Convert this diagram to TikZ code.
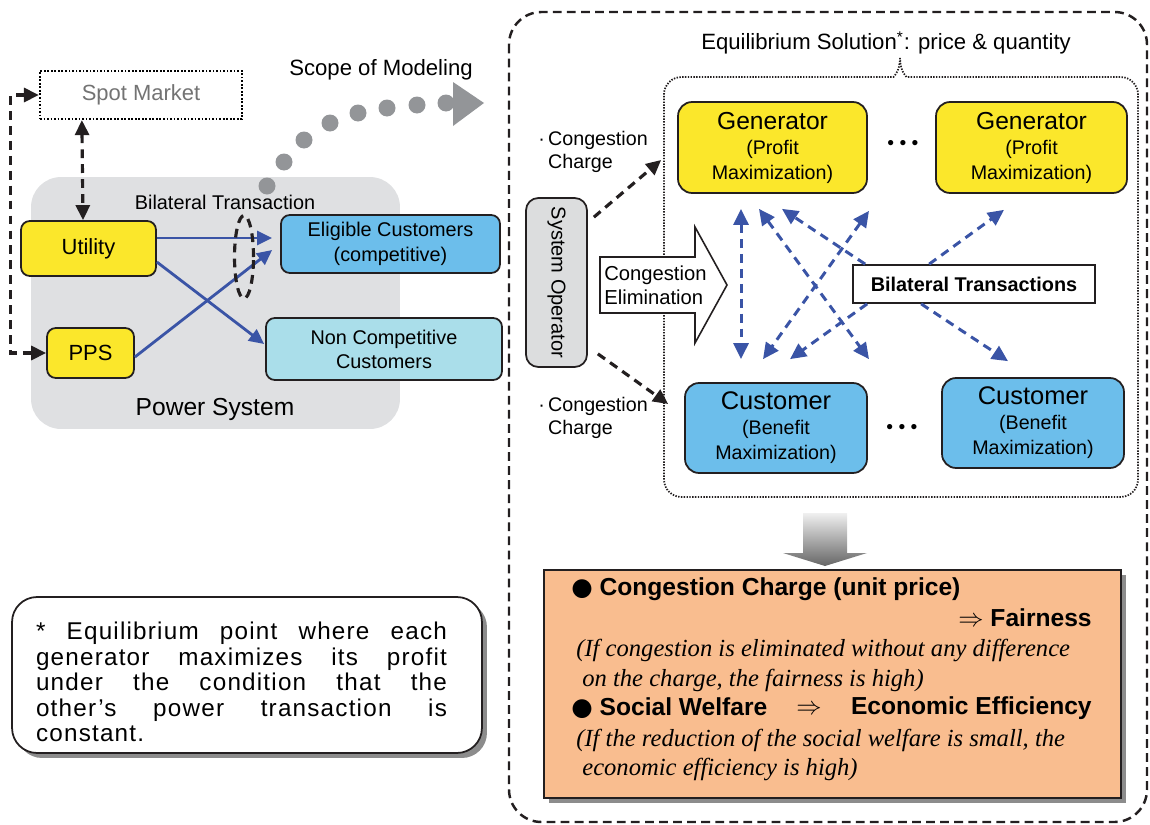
\documentclass[tikz,border=0pt]{standalone}
\usepackage{fontspec}
\setmainfont{Liberation Sans}
\newfontfamily\timesfont{Liberation Serif}
\newfontfamily\symfont{DejaVu Sans}
\newfontfamily\spacedfont{Liberation Sans}[LetterSpace=5]
\usetikzlibrary{arrows.meta,positioning,calc,shapes.geometric,shadows}
\definecolor{genyel}{RGB}{251,231,43}
\definecolor{custblue}{RGB}{108,190,235}
\definecolor{ncblue}{RGB}{170,222,234}
\definecolor{psgray}{RGB}{223,224,226}
\definecolor{sogray}{RGB}{220,221,222}
\definecolor{trblue}{RGB}{58,84,166}
\definecolor{scopegray}{RGB}{147,149,152}
\definecolor{resorange}{RGB}{249,189,143}
\definecolor{lineblk}{RGB}{35,31,32}
\definecolor{spotgray}{RGB}{115,115,115}
\newcommand{\fsz}[2]{\fontsize{#1pt}{#2pt}\selectfont}
\tikzset{
  bx/.style={draw=lineblk, line width=1pt, rounded corners=5pt, inner sep=0pt, align=center},
  ybox/.style={bx, fill=genyel, font=\fsz{12.5}{15}},
  cbox/.style={bx, fill=custblue, font=\fsz{11.3}{13.9}},
  nbox/.style={bx, fill=ncblue, font=\fsz{11.3}{13.6}},
  gbox/.style={bx, fill=genyel, rounded corners=8pt, font=\fsz{11.2}{14.2}, minimum height=1.82cm},
  ubox/.style={bx, fill=custblue, rounded corners=8pt, font=\fsz{11.2}{14.2}, minimum height=1.8cm, minimum width=3.64cm},
  spotbox/.style={draw=black, line width=1.3pt, dash pattern=on 1pt off 1pt, inner sep=0pt, minimum width=4.04cm, minimum height=0.96cm, text=spotgray, font=\fsz{12.5}{15}},
  blkarr/.style={lineblk, line width=1.8pt, dash pattern=on 5pt off 3.5pt, >={Triangle[length=3mm,width=2.8mm]}, ->},
  blkdbl/.style={blkarr, <->},
  trarr/.style={trblue, line width=1.6pt, >={Triangle[length=3mm,width=2.8mm]}, ->},
  trdash/.style={trarr, line width=1.7pt, dash pattern=on 5pt off 3.5pt, >={Triangle[length=3.2mm,width=3mm]}},
  trdbl/.style={trdash, <->},
  outerdash/.style={draw=lineblk, line width=1.4pt, dash pattern=on 5pt off 3pt, rounded corners=0.65cm},
  innerdot/.style={draw=lineblk, line width=1pt, dash pattern=on 0.8pt off 0.8pt, rounded corners=0.35cm},
  lbl/.style={font=\fsz{11.2}{13}, inner sep=0pt, align=left},
  ostrong/.style={font=\bfseries\fsz{14}{16}, inner sep=0pt},
  oital/.style={font=\timesfont\itshape\fsz{14}{16}, inner sep=0pt},
  shadowbox/.style={drop shadow={shadow xshift=0.1cm, shadow yshift=-0.1cm, fill=black!45, opacity=1}},
}
\begin{document}
\begin{tikzpicture}[x=0.02cm, y=-0.02cm]
  \useasboundingbox (0,0) rectangle (1150,825);
  % power system (left part)
  \node[fill=psgray, rounded corners=0.6cm, minimum width=7.38cm, minimum height=5.04cm] (psys) at (215.5,303) {};
  \node[font=\fsz{14}{16}] (pslabel) at (215,409) {Power System};
  \node[font=\fsz{11.3}{13}] (btlabel) at (225,202) {Bilateral Transaction};
  \node[spotbox] (spot) at (141,95) {Spot Market};
  \node[ybox, minimum width=2.7cm, minimum height=1.1cm] (utility) at (88.5,248.5) {Utility};
  \node[ybox, minimum width=1.74cm, minimum height=1.0cm] (pps) at (90.5,353) {PPS};
  \node[cbox, minimum width=4.38cm, minimum height=1.16cm] (elig) at (390.5,244) {Eligible Customers\\(competitive)};
  \node[nbox, minimum width=4.72cm, minimum height=1.24cm] (noncomp) at (384,349) {Non Competitive\\Customers};
  \draw[blkdbl] (spot.west) -- ++(-28,0) |- (pps.west);
  \draw[blkdbl] ($(spot.south west)+(43,0)$) -- ($(utility.north)+(-5.5,0)$);
  \draw[trarr] ($(utility.east)+(0,-10.5)$) -- ($(elig.west)+(-8,-6)$);
  \draw[trarr] ($(utility.east)+(0,13.5)$) -- ($(noncomp.west)+(-1,-5)$);
  \draw[trarr] ($(pps.east)+(0,4)$) -- ($(elig.west)+(-8,6)$);
  \node[draw=lineblk, line width=1.8pt, dash pattern=on 5pt off 3.5pt, ellipse, minimum width=0.38cm, minimum height=1.66cm, inner sep=0pt] (btring) at (244,257) {};
  % scope of modeling
  \foreach \px/\py in {267/186, 284/162, 304/140, 330/123, 358/113, 387/108, 417/105, 446/103}
    \fill[scopegray] (\px,\py) circle (0.17cm);
  \fill[scopegray] (453,82) -- (484,103) -- (453,126) -- cycle;
  \node[font=\fsz{12.6}{15}] (scope) at (381,70) {Scope of Modeling};
  % equilibrium model (right part)
  \draw[outerdash] (509,12) rectangle (1147,822);
  \draw[innerdot] (900,58) .. controls (900,72) and (893,77) .. (876,77) -- (664,77) -- (664,497) -- (1138,497) -- (1138,77) -- (924,77) .. controls (907,77) and (900,72) .. (900,58);
  \node[font=\fsz{12.6}{15}] (eqsol) at (886,43) {Equilibrium Solution\textsuperscript{*}: price \& quantity};
  \node[gbox, minimum width=3.78cm] (gen1) at (772.5,147.5) {{\fsz{14}{14.2}Generator}\\(Profit\\Maximization)};
  \node[gbox, minimum width=3.82cm] (gen2) at (1031.5,147.5) {{\fsz{14}{14.2}Generator}\\(Profit\\Maximization)};
  \node[ubox] (cust1) at (776,428) {{\fsz{14.5}{14.6}Customer}\\(Benefit\\Maximization)};
  \node[ubox] (cust2) at (1033,423) {{\fsz{14.5}{14.6}Customer}\\(Benefit\\Maximization)};
  \node[font=\fsz{11}{13}] (gdots) at (903,145) {\textbullet\ \textbullet\ \textbullet};
  \node[font=\fsz{11}{13}] (cdots) at (902,429) {\textbullet\ \textbullet\ \textbullet};
  \node[bx, fill=sogray, rounded corners=7pt, minimum width=1.22cm, minimum height=3.38cm, font=\fsz{11.4}{13}] (so) at (556.5,282.5) {\rotatebox{-90}{System Operator}};
  \node[lbl, anchor=west] (cctop) at (538,152) {·\,Congestion\\\hphantom{·\,}Charge};
  \node[lbl, anchor=west] (ccbot) at (538,418) {·\,Congestion\\\hphantom{·\,}Charge};
  \draw[blkarr] ($(so.north east)+(6,20)$) -- ($(gen1.west)+(-16,12.5)$);
  \draw[blkarr] ($(so.south east)+(10,-14)$) -- ($(cust1.west)+(-16,-24)$);
  % congestion elimination arrow
  \draw[draw=lineblk, line width=0.9pt, fill=white] (600,257) -- (695,257) -- (695,227) -- (727,285) -- (695,343) -- (695,313) -- (600,313) -- cycle;
  \node[lbl, font=\fsz{11.5}{13.6}, anchor=west] (elim) at (604,285) {Congestion\\Elimination};
  % bilateral transactions
  \node[draw=lineblk, line width=1pt, fill=white, inner sep=0pt, minimum width=4.84cm, minimum height=0.76cm, font=\bfseries\fsz{11.3}{13}] (bt) at (974,284) {Bilateral Transactions};
  \draw[trdbl] ($(gen1.south)+(-31.5,15)$) -- ($(cust1.north)+(-35,-23)$);
  \draw[trdbl] ($(gen1.south)+(-13.5,15)$) -- ($(cust1.north)+(93,-23)$);
  \draw[trdbl] ($(gen1.south)+(96.5,17)$) -- ($(cust1.north)+(-13,-23)$);
  \draw[trdash] ($(bt.north west)+(13,0)$) -- ($(gen1.south)+(9.5,15)$);
  \draw[trdash] ($(bt.south west)+(15,0)$) -- ($(cust1.north)+(14,-23)$);
  \draw[trdash] ($(bt.north west)+(77,0)$) -- ($(gen2.south)+(-27.5,16)$);
  \draw[trdash] ($(bt.south west)+(69,0)$) -- ($(cust2.north)+(-25,-16)$);
  % result
  \shade[top color=gray!12, bottom color=black!60] (803,513) -- (847,513) -- (847,553) -- (867,553) -- (825,566) -- (783,553) -- (803,553) -- cycle;
  \node[draw=lineblk, line width=1pt, fill=resorange, minimum width=11.54cm, minimum height=4.56cm, shadowbox] (res) at (832.5,684) {};
  \node[ostrong, anchor=west] (r1) at (571,589) {{\symfont ●} Congestion Charge (unit price)};
  \node[ostrong, anchor=east] (r2) at (1092,618) {$\Rightarrow$ Fairness};
  \node[oital, anchor=west] (r3) at (576,650) {(If congestion is eliminated without any difference};
  \node[oital, anchor=west] (r4) at (582,680) {on the charge, the fairness is high)};
  \node[ostrong, anchor=west] (r5) at (571,708) {{\symfont ●} Social Welfare};
  \node[ostrong] (r5b) at (809,710) {$\Rightarrow$};
  \node[ostrong, anchor=east] (r5c) at (1092,708) {Economic Efficiency};
  \node[oital, anchor=west] (r6) at (576,740) {(If the reduction of the social welfare is small, the};
  \node[oital, anchor=west] (r7) at (582,769) {economic efficiency is high)};
  % footnote
  \node[draw=lineblk, line width=1pt, fill=white, rounded corners=0.5cm, minimum width=9.4cm, minimum height=3.12cm, shadowbox] (note) at (247,675) {};
  \node[inner sep=0pt, align=left, font=\spacedfont\fsz{13.8}{14.6}] (notetext) at (241.5,682) {%
    \makebox[8.22cm][s]{* Equilibrium point where each}\\
    \makebox[8.22cm][s]{generator maximizes its profit}\\
    \makebox[8.22cm][s]{under the condition that the}\\
    \makebox[8.22cm][s]{other’s power transaction is}\\
    constant.};
\end{tikzpicture}
\end{document}
